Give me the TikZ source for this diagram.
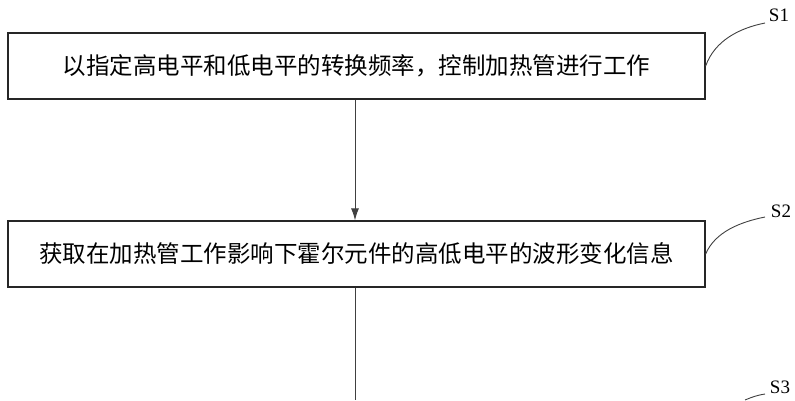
\documentclass[tikz,border=0pt]{standalone}
\usepackage{fontspec}
\usetikzlibrary{arrows.meta}
\setmainfont{Liberation Serif}
\newfontfamily\cjk{Noto Sans CJK SC}
\begin{document}
\begin{tikzpicture}[x=1pt,y=-1pt,
  stepbox/.style={draw=black!85,line width=1.3pt,minimum width=697pt,minimum height=66pt,inner sep=0pt,font=\cjk\fontsize{23.5}{27}\selectfont},
  lbl/.style={font=\fontsize{19}{22}\selectfont,inner sep=0pt},
  conn/.style={draw=black!75,line width=0.9pt}]
\useasboundingbox (0,0) rectangle (795,400);
\node[stepbox] (b1) at (356.5,66) {以指定高电平和低电平的转换频率，控制加热管进行工作};
\node[stepbox] (b2) at (356.5,254) {获取在加热管工作影响下霍尔元件的高低电平的波形变化信息};
\coordinate (e) at (355,400);
\draw[conn,-{Latex[length=12pt,width=8pt]}] (b1.south -| 355,0) -- (b2.north -| 355,0);
\draw[conn] (b2.south -| 355,0) -- (e);
\node[lbl] (s1) at (779,15) {S1};
\node[lbl] (s2) at (781,211) {S2};
\node[lbl] (s3) at (780,387) {S3};
\draw[conn] (b1.east) .. controls (715,40) and (740,28) .. (765,23);
\draw[conn] (b2.east) .. controls (715,232) and (740,222) .. (765,217);
\draw[conn] (745,400) .. controls (752,397) and (758,395) .. (765,394);
\end{tikzpicture}
\end{document}
